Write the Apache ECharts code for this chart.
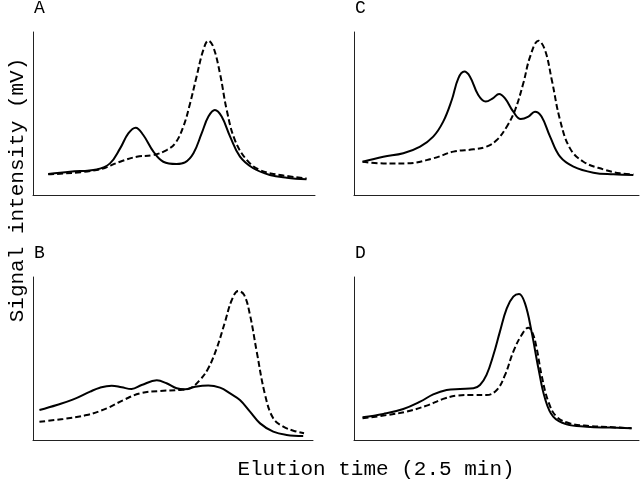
<!DOCTYPE html>
<html>
<head>
<meta charset="utf-8">
<script src="https://cdn.jsdelivr.net/npm/echarts@6/dist/echarts.min.js"></script>
<style>html,body{margin:0;padding:0;background:#fff}#c{width:640px;height:479px}</style>
</head>
<body>
<div id="c"></div>
<script>
// Panel labels and axis titles
const panelLabels = ['A', 'C', 'B', 'D'];
const xTitle = 'Elution time (2.5 min)';
const yTitle = 'Signal intensity (mV)';

// Panel A
const aSolid = [[5.4,12.9],[13.1,14.3],[22.6,15.7],[27.3,19.4],[30.9,28.6],[33.8,37.8],[36.4,41.3],[39.1,36.8],[42.7,26.6],[46.2,20.4],[50.9,19.0],[53.9,20.0],[56.9,25.6],[59.8,37.8],[62.2,48.1],[64.5,52.1],[66.9,48.1],[69.9,35.8],[73.4,23.5],[78.1,16.4],[84.0,12.3],[90.0,10.6],[97.0,9.6]];
const aDashed = [[5.4,12.7],[22.6,15.3],[30.9,20.4],[36.8,23.5],[42.7,24.5],[47.4,27.6],[50.4,31.7],[53.3,41.9],[55.7,56.2],[58.0,72.6],[60.4,89.0],[62.2,94.7],[63.9,91.0],[66.3,74.6],[68.7,52.1],[71.6,33.7],[75.8,21.5],[80.5,15.3],[87.6,12.3],[97.0,10.2]];

// Panel C
const cSolid = [[3.0,20.4],[10.3,23.5],[17.3,25.6],[23.2,29.7],[27.8,35.8],[31.3,45.0],[34.3,58.3],[36.6,71.6],[38.7,75.7],[40.7,72.6],[43.6,61.3],[46.2,57.3],[48.7,59.3],[50.9,62.0],[53.0,59.3],[55.9,51.1],[58.5,46.6],[61.2,48.1],[63.5,51.1],[65.8,48.1],[68.8,35.8],[72.3,23.5],[77.0,17.4],[84.0,13.7],[91.0,12.7],[98.0,12.3]];
const cDashed = [[3.0,20.4],[10.3,19.4],[18.5,19.4],[27.8,22.5],[34.9,26.6],[41.9,28.0],[46.5,29.7],[50.1,33.7],[53.6,41.9],[56.5,52.1],[59.4,68.5],[61.8,84.9],[64.7,94.7],[67.0,89.0],[69.4,70.6],[72.3,46.0],[75.8,28.6],[80.5,20.4],[87.5,15.7],[93.3,13.3],[98.0,12.7]];

// Panel B
const bSolid = [[2.3,18.4],[8.5,21.5],[14.4,24.9],[20.4,29.7],[23.9,32.1],[28.1,33.3],[31.7,32.3],[35.2,31.3],[38.8,33.7],[44.2,36.6],[47.7,34.8],[51.3,31.7],[54.3,31.1],[57.9,32.7],[62.6,33.5],[66.8,32.1],[70.4,28.6],[73.9,24.5],[77.5,17.4],[81.1,10.2],[85.8,5.1],[90.6,3.1],[96.5,2.5]];
const bDashed = [[2.3,11.2],[10.8,12.9],[19.2,15.3],[26.3,19.4],[32.3,24.5],[38.2,28.6],[45.4,30.1],[52.5,30.7],[56.1,31.7],[59.6,36.8],[62.6,44.0],[65.6,56.2],[68.6,72.6],[71.0,85.9],[73.3,91.4],[75.4,89.0],[77.5,76.7],[79.9,54.2],[82.9,27.6],[85.8,13.3],[89.4,8.2],[93.0,5.7],[96.8,4.1]];

// Panel D
const dSolid = [[3.0,13.9],[10.3,16.0],[17.3,19.0],[23.2,23.5],[27.8,28.0],[32.5,30.7],[37.2,31.3],[41.9,31.7],[44.2,33.7],[46.5,39.9],[48.9,52.1],[51.2,66.5],[53.6,80.8],[55.9,87.9],[57.9,89.6],[60.0,83.8],[62.3,66.5],[64.7,44.0],[67.0,25.6],[69.9,14.3],[74.6,9.6],[81.6,8.2],[89.8,7.6],[97.4,7.2]];
const dDashed = [[3.0,13.3],[11.5,15.3],[18.5,17.4],[25.5,21.1],[31.3,25.2],[36.0,27.2],[41.9,27.6],[46.5,27.6],[50.1,30.7],[53.0,39.9],[55.9,54.2],[58.8,64.4],[61.2,68.9],[62.7,65.4],[64.1,56.2],[65.8,39.9],[68.2,23.5],[71.1,14.3],[75.8,10.2],[82.8,8.6],[91.0,7.8],[97.4,7.2]];

const chart = echarts.init(document.getElementById('c'), null, {renderer: 'canvas'});
const font = 'Liberation Mono';
const grids = [
  {left: 33, top: 32, width: 282, height: 163},
  {left: 354, top: 32, width: 285, height: 163},
  {left: 33, top: 277, width: 280, height: 163},
  {left: 354, top: 277, width: 285, height: 163}
];
const seriesData = [[aSolid, aDashed], [cSolid, cDashed], [bSolid, bDashed], [dSolid, dDashed]];
const axisLine = {show: true, lineStyle: {color: '#222', width: 1}};
const xAxes = [], yAxes = [], series = [];
grids.forEach((g, i) => {
  xAxes.push({type: 'value', gridIndex: i, min: 0, max: 100, axisLine: axisLine, axisTick: {show: false}, axisLabel: {show: false}, splitLine: {show: false}});
  yAxes.push({type: 'value', gridIndex: i, min: 0, max: 100, axisLine: axisLine, axisTick: {show: false}, axisLabel: {show: false}, splitLine: {show: false}});
  series.push({type: 'line', xAxisIndex: i, yAxisIndex: i, data: seriesData[i][0], smooth: 0.4, showSymbol: false, symbol: 'none', lineStyle: {color: '#000', width: 2, type: 'solid'}, z: 3, silent: true, animation: false});
  series.push({type: 'line', xAxisIndex: i, yAxisIndex: i, data: seriesData[i][1], smooth: 0.4, showSymbol: false, symbol: 'none', lineStyle: {color: '#000', width: 2, type: [6, 3]}, z: 2, silent: true, animation: false});
});
const labelPos = [[34, 9], [355, 9], [34, 254], [355, 254]];
const graphics = panelLabels.map((t, i) => ({
  type: 'text', left: labelPos[i][0], top: labelPos[i][1] - 10,
  style: {text: t, font: '18px "' + font + '"', fill: '#000', textVerticalAlign: 'top'}
}));
graphics.push({type: 'text', x: 376, y: 469, style: {text: xTitle, font: '21px "' + font + '"', fill: '#000', align: 'center', verticalAlign: 'middle'}});
graphics.push({type: 'text', x: 17, y: 190, rotation: Math.PI / 2, style: {text: yTitle, font: '21px "' + font + '"', fill: '#000', align: 'center', verticalAlign: 'middle'}});
chart.setOption({
  animation: false,
  backgroundColor: '#fff',
  grid: grids,
  xAxis: xAxes,
  yAxis: yAxes,
  series: series,
  graphic: graphics
});
</script>
</body>
</html>
